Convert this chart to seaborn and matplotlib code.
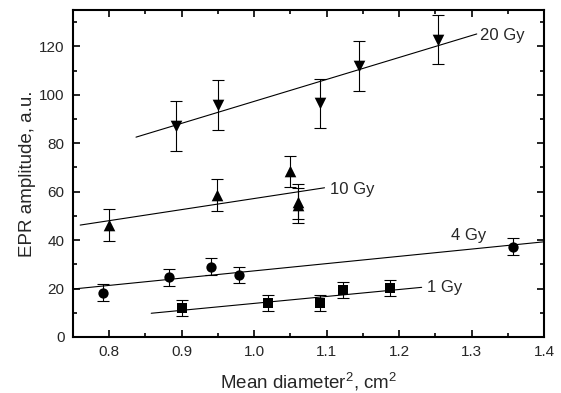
import numpy as np
import pandas as pd
import seaborn as sns
import matplotlib.pyplot as plt
from matplotlib.ticker import MultipleLocator

# measured points (x = mean diameter^2, y = EPR amplitude, err = half error bar)
x_1gy = [0.901, 1.019, 1.091, 1.123, 1.187]
y_1gy = [12.1, 13.9, 13.9, 19.4, 20.3]
e_1gy = [3.3, 3.3, 3.3, 3.2, 3.3]

x_4gy = [0.792, 0.883, 0.940, 0.979, 1.357]
y_4gy = [18.3, 24.6, 29.1, 25.6, 37.2]
e_4gy = [3.5, 3.6, 3.6, 3.5, 3.5]

x_10gy = [0.800, 0.949, 1.050, 1.060, 1.060]
y_10gy = [46.2, 58.6, 68.4, 55.8, 54.3]
e_10gy = [6.5, 6.6, 6.5, 7.2, 7.1]

x_20gy = [0.892, 0.950, 1.091, 1.144, 1.254]
y_20gy = [87.1, 95.7, 96.4, 111.9, 122.8]
e_20gy = [10.4, 10.3, 10.3, 10.3, 10.2]

doses = ["1 Gy", "4 Gy", "10 Gy", "20 Gy"]

# fitted lines: start/end x and y
fit_x0 = [0.858, 0.750, 0.760, 0.837]
fit_x1 = [1.231, 1.400, 1.097, 1.307]
fit_y0 = [9.8, 19.8, 46.2, 82.5]
fit_y1 = [20.5, 39.3, 61.6, 125.1]

rows = []
for d, xs, ys, es in zip(doses, [x_1gy, x_4gy, x_10gy, x_20gy],
                         [y_1gy, y_4gy, y_10gy, y_20gy],
                         [e_1gy, e_4gy, e_10gy, e_20gy]):
    for x, y, e in zip(xs, ys, es):
        rows.append([d, x, y, e])
df = pd.DataFrame(rows, columns=["Dose", "x", "y", "err"])

fit = pd.DataFrame({
    "Dose": doses * 2,
    "x": fit_x0 + fit_x1,
    "y": fit_y0 + fit_y1,
})

sns.set_theme(style="ticks")
plt.rcParams['font.family'] = ['Liberation Sans', 'DejaVu Sans']
plt.rcParams['mathtext.fontset'] = 'custom'
plt.rcParams['mathtext.rm'] = 'Liberation Sans'

fig, ax = plt.subplots(figsize=(5.61, 3.93), dpi=100)
fig.subplots_adjust(left=0.130, right=0.970, bottom=0.1425, top=0.9746)

sns.lineplot(data=fit, x="x", y="y", units="Dose", estimator=None,
             color="black", lw=0.8, ax=ax, legend=False)

ax.errorbar(df["x"], df["y"], yerr=df["err"], fmt="none", ecolor="black",
            elinewidth=0.8, capsize=4, capthick=0.8, zorder=3)

markers = {"1 Gy": "s", "4 Gy": "o", "10 Gy": "^", "20 Gy": "v"}
sizes = {"1 Gy": 45, "4 Gy": 55, "10 Gy": 70, "20 Gy": 70}
for d in doses:
    sub = df[df["Dose"] == d]
    sns.scatterplot(data=sub, x="x", y="y", marker=markers[d], s=sizes[d],
                    color="black", edgecolor="black", linewidth=0, ax=ax,
                    zorder=4, legend=False)

lab_pos = {"1 Gy": (1.239, 20.3), "4 Gy": (1.272, 42.1),
           "10 Gy": (1.105, 61.0), "20 Gy": (1.312, 124.5)}
for d in doses:
    ax.text(*lab_pos[d], d, ha="left", va="center", fontsize=12)

ax.set_xlim(0.75, 1.4)
ax.set_ylim(0, 135)
ax.xaxis.set_major_locator(MultipleLocator(0.1))
ax.xaxis.set_minor_locator(MultipleLocator(0.05))
ax.yaxis.set_major_locator(MultipleLocator(20))
ax.yaxis.set_minor_locator(MultipleLocator(10))
ax.set_yticks(range(0, 121, 20))
ax.tick_params(which="both", direction="in", top=True, right=True,
               labeltop=False, labelright=False, width=1.2, color="black")
ax.tick_params(which="major", length=5, labelsize=11, pad=6)
ax.tick_params(which="minor", length=3)
ax.set_xticks([0.8, 0.9, 1.0, 1.1, 1.2, 1.3, 1.4])
ax.set_xticklabels(["0.8", "0.9", "1.0", "1.1", "1.2", "1.3", "1.4"])
for s in ax.spines.values():
    s.set_linewidth(1.5)
    s.set_color("black")

ax.set_xlabel(r"Mean diameter$^2$, cm$^2$", fontsize=13.5, labelpad=8)
ax.set_ylabel("EPR amplitude, a.u.", fontsize=13.5, labelpad=2)

fig.savefig("out.png", dpi=100)
